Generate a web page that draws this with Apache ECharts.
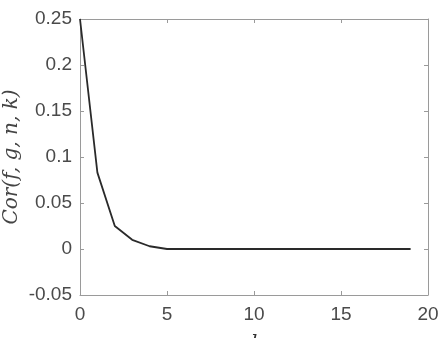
<!DOCTYPE html>
<html><head><meta charset="utf-8">
<script src="https://cdn.jsdelivr.net/npm/echarts@6/dist/echarts.min.js"></script>
<style>html,body{margin:0;padding:0;background:#fff}#c{width:442px;height:338px}</style>
</head><body><div id="c"></div>
<script>
const kValues = [0,1,2,3,4,5,6,7,8,9,10,11,12,13,14,15,16,17,18,19];
const corValues = [0.25,0.083,0.025,0.01,0.003,0,0,0,0,0,0,0,0,0,0,0,0,0,0,0];
const xTicks = [0,5,10,15,20];
const yTicks = [-0.05,0,0.05,0.1,0.15,0.2,0.25];
const xTitle = 'k';
const yTitle = 'Cor(f, g, n, k)';

const chart = echarts.init(document.getElementById('c'));
const boxColor = '#9a9a9a';
const labelStyle = {color:'#4a4a4a', fontSize:19, fontFamily:'Liberation Sans, Arial, sans-serif'};
function baseX(pos, show){
  return {type:'value', position:pos, min:0, max:20, interval:5,
    axisLine:{show:true, onZero:false, lineStyle:{color:boxColor,width:1}},
    axisTick:{show:true, inside:true, length:4, lineStyle:{color:boxColor}},
    axisLabel:Object.assign({show:show, margin:10}, labelStyle),
    splitLine:{show:false}};
}
function baseY(pos, show){
  return {type:'value', position:pos, min:-0.05, max:0.25, interval:0.05,
    axisLine:{show:true, onZero:false, lineStyle:{color:boxColor,width:1}},
    axisTick:{show:true, inside:true, length:4, lineStyle:{color:boxColor}},
    axisLabel:Object.assign({show:show, margin:8, formatter:v=>{const r=Math.round(v*100)/100; return String(r);}}, labelStyle),
    splitLine:{show:false}};
}

chart.setOption({
  animation:false,
  backgroundColor:'#fff',
  grid:{left:80, right:14, top:19, bottom:43, outerBoundsMode:'none', containLabel:false},
  xAxis:[baseX('bottom', true), baseX('top', false)],
  yAxis:[baseY('left', true), baseY('right', false)],
  graphic:[
    {type:'text', left:null, x:12, y:157, rotation:Math.PI/2,
      style:{text:yTitle, x:0, y:0, align:'center', verticalAlign:'middle',
        font:'italic 20px "DejaVu Serif"', fill:'#444'}},
    {type:'text', x:257, y:344,
      style:{text:xTitle, x:0, y:0, align:'center', verticalAlign:'middle',
        font:'italic 20px "DejaVu Serif"', fill:'#333'}}
  ],
  series:[{
    type:'line', xAxisIndex:0, yAxisIndex:0,
    data:kValues.map((k,i)=>[k, corValues[i]]),
    showSymbol:false, symbol:'none',
    lineStyle:{color:'#2a2a2a', width:1.8}
  }]
});
</script></body></html>
